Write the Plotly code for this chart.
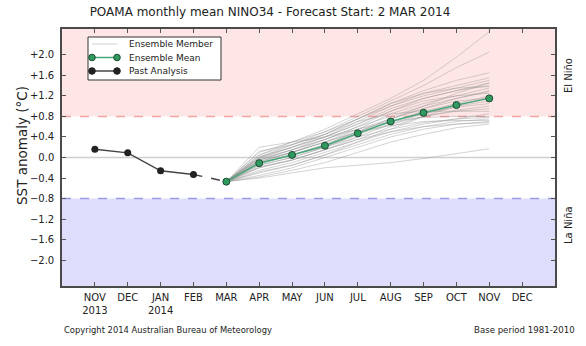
import plotly.graph_objects as go

# ---- data ----
month_labels = ["NOV<br>2013", "DEC", "JAN<br>2014", "FEB", "MAR", "APR", "MAY", "JUN",
                "JUL", "AUG", "SEP", "OCT", "NOV", "DEC"]
month_pos = list(range(1, 15))

past_pos = [1, 2, 3, 4]
past_vals = [0.16, 0.09, -0.26, -0.33]

fc_pos = [5, 6, 7, 8, 9, 10, 11, 12, 13]
mean_vals = [-0.47, -0.11, 0.05, 0.23, 0.47, 0.70, 0.87, 1.02, 1.15]

members = [
    [-0.47, 0.05, 0.30, 0.55, 0.85, 1.15, 1.50, 1.95, 2.45],
    [-0.47, 0.00, 0.25, 0.50, 0.80, 1.10, 1.40, 1.75, 2.05],
    [-0.47, -0.02, 0.20, 0.45, 0.75, 1.05, 1.30, 1.50, 1.65],
    [-0.47, 0.10, 0.30, 0.50, 0.75, 1.00, 1.25, 1.40, 1.55],
    [-0.47, -0.05, 0.15, 0.40, 0.70, 1.00, 1.20, 1.35, 1.50],
    [-0.47, 0.02, 0.20, 0.40, 0.65, 0.95, 1.15, 1.30, 1.45],
    [-0.47, -0.08, 0.10, 0.35, 0.60, 0.90, 1.15, 1.30, 1.40],
    [-0.47, 0.05, 0.25, 0.45, 0.75, 1.05, 1.25, 1.35, 1.38],
    [-0.47, -0.10, 0.10, 0.30, 0.55, 0.85, 1.05, 1.20, 1.35],
    [-0.47, -0.05, 0.15, 0.35, 0.60, 0.80, 1.00, 1.15, 1.30],
    [-0.47, -0.12, 0.05, 0.25, 0.50, 0.75, 0.95, 1.15, 1.28],
    [-0.47, 0.00, 0.20, 0.40, 0.65, 0.90, 1.10, 1.20, 1.25],
    [-0.47, -0.15, 0.00, 0.20, 0.45, 0.70, 0.90, 1.05, 1.20],
    [-0.47, -0.08, 0.10, 0.30, 0.50, 0.75, 0.95, 1.10, 1.15],
    [-0.47, -0.18, -0.05, 0.15, 0.40, 0.65, 0.85, 1.00, 1.10],
    [-0.47, -0.10, 0.05, 0.25, 0.50, 0.70, 0.85, 0.98, 1.05],
    [-0.47, -0.20, -0.05, 0.15, 0.35, 0.60, 0.80, 0.92, 1.00],
    [-0.47, -0.12, 0.05, 0.20, 0.45, 0.65, 0.80, 0.90, 0.95],
    [-0.47, 0.12, 0.25, 0.45, 0.70, 0.85, 0.90, 0.90, 0.90],
    [-0.47, -0.25, -0.10, 0.10, 0.30, 0.50, 0.65, 0.75, 0.85],
    [-0.47, -0.02, 0.15, 0.35, 0.55, 0.70, 0.78, 0.80, 0.80],
    [-0.47, -0.15, 0.00, 0.20, 0.40, 0.55, 0.68, 0.75, 0.78],
    [-0.47, -0.30, -0.15, 0.05, 0.25, 0.45, 0.60, 0.70, 0.75],
    [-0.47, -0.05, 0.10, 0.30, 0.50, 0.62, 0.70, 0.72, 0.72],
    [-0.47, -0.35, -0.20, 0.00, 0.20, 0.40, 0.55, 0.65, 0.70],
    [-0.47, -0.20, -0.05, 0.15, 0.35, 0.50, 0.60, 0.65, 0.68],
    [-0.47, -0.38, -0.25, -0.10, 0.10, 0.30, 0.45, 0.58, 0.65],
    [-0.47, -0.40, -0.30, -0.20, -0.15, -0.10, -0.02, 0.08, 0.17],
    [-0.47, 0.20, 0.30, 0.40, 0.55, 0.75, 1.00, 1.25, 1.45],
    [-0.47, -0.28, -0.15, 0.05, 0.30, 0.55, 0.80, 1.00, 1.18],
]

ytick_vals = [-2.0, -1.6, -1.2, -0.8, -0.4, 0.0, 0.4, 0.8, 1.2, 1.6, 2.0]
ytick_text = ["\u22122.0", "\u22121.6", "\u22121.2", "\u22120.8", "\u22120.4", "0.0",
              "+0.4", "+0.8", "+1.2", "+1.6", "+2.0"]

legend_names = ["Ensemble Member", "Ensemble Mean", "Past Analysis"]

nino_thr = 0.8
nina_thr = -0.8
y_min, y_max = -2.5, 2.5
x_min, x_max = 0, 15

# plot-area geometry in pixels (for converting overlay positions)
W, H = 586, 346
L, R, T, B = 62, 31, 29, 60
PW, PH = W - L - R, H - T - B


def px(xp):
    return (xp - L) / PW


def py(yp):
    return (H - B - yp) / PH


MEMBER_COLOR = "rgba(145,145,145,0.4)"
MEAN_LINE = "#4aa77a"
MEAN_FILL = "#2e9a5e"
MEAN_EDGE = "#1f4a33"
PAST_LINE = "#444444"
PAST_FILL = "#222222"

fig = go.Figure()

# background bands
fig.add_shape(type="rect", xref="paper", x0=0, x1=1, y0=nino_thr, y1=y_max,
              fillcolor="#ffe6e6", line_width=0, layer="below")
fig.add_shape(type="rect", xref="paper", x0=0, x1=1, y0=y_min, y1=nina_thr,
              fillcolor="#dedefc", line_width=0, layer="below")
fig.add_shape(type="line", xref="paper", x0=0, x1=1, y0=0, y1=0,
              line=dict(color="#cfcfcf", width=1.5), layer="below")
fig.add_shape(type="line", xref="paper", x0=0, x1=1, y0=nino_thr, y1=nino_thr,
              line=dict(color="#f5a3a3", width=1.5, dash="dash"), layer="below")
fig.add_shape(type="line", xref="paper", x0=0, x1=1, y0=nina_thr, y1=nina_thr,
              line=dict(color="#9a9ae6", width=1.5, dash="dash"), layer="below")

for i, m in enumerate(members):
    fig.add_trace(go.Scatter(x=fc_pos, y=m, mode="lines",
                             line=dict(color=MEMBER_COLOR, width=1),
                             name=legend_names[0], showlegend=False, hoverinfo="skip"))

# dashed connector from last analysis to forecast start
fig.add_trace(go.Scatter(x=[past_pos[-1], fc_pos[0]], y=[past_vals[-1], mean_vals[0]],
                         mode="lines", line=dict(color=PAST_LINE, width=1.5, dash="dash"),
                         showlegend=False))

fig.add_trace(go.Scatter(x=fc_pos, y=mean_vals, mode="lines+markers",
                         line=dict(color=MEAN_LINE, width=1.5),
                         marker=dict(color=MEAN_FILL, size=7, line=dict(color=MEAN_EDGE, width=1)),
                         name=legend_names[1], showlegend=False))

fig.add_trace(go.Scatter(x=past_pos, y=past_vals, mode="lines+markers",
                         line=dict(color=PAST_LINE, width=1.5),
                         marker=dict(color=PAST_FILL, size=7),
                         name=legend_names[2], showlegend=False))

# ---- compact legend box (matplotlib style) ----
fig.add_shape(type="rect", xref="paper", yref="paper",
              x0=px(88), x1=px(221), y0=py(80), y1=py(37),
              fillcolor="white", line=dict(color="#333333", width=1))
rows = [44, 57.5, 71]
styles = [(MEMBER_COLOR, None, None), (MEAN_LINE, MEAN_FILL, MEAN_EDGE), (PAST_LINE, PAST_FILL, PAST_FILL)]
for name, yr, (lc, mf, me) in zip(legend_names, rows, styles):
    fig.add_shape(type="line", xref="paper", yref="paper",
                  x0=px(92), x1=px(117), y0=py(yr), y1=py(yr),
                  line=dict(color=lc if mf else "rgba(150,150,150,0.45)", width=1.5 if mf else 1))
    if mf:
        for xc in (92, 117):
            fig.add_shape(type="circle", xref="paper", yref="paper",
                          xsizemode="pixel", ysizemode="pixel",
                          xanchor=px(xc), yanchor=py(yr),
                          x0=-3.3, x1=3.3, y0=-3.3, y1=3.3,
                          fillcolor=mf, line=dict(color=me, width=1))
    fig.add_annotation(text=name, xref="paper", yref="paper", x=px(127), y=py(yr),
                       xanchor="left", yanchor="middle", showarrow=False,
                       font=dict(size=9, color="#222222"))

fig.update_layout(
    width=W, height=H,
    margin=dict(l=L, r=R, t=T, b=B),
    paper_bgcolor="white", plot_bgcolor="white",
    font=dict(family="DejaVu Sans", size=10, color="#222222"),
    title=dict(text="POAMA monthly mean NINO34 - Forecast Start: 2 MAR 2014",
               x=270/586, xanchor="center", y=1-12/346, yanchor="middle",
               font=dict(size=12, color="#222222")),
    showlegend=False,
    xaxis=dict(range=[x_min, x_max], tickvals=month_pos, ticktext=month_labels,
               ticks="inside", ticklen=4, tickcolor="#555555", mirror="ticks",
               showline=True, linecolor="#4a4a4a", linewidth=1.5,
               showgrid=False, zeroline=False, tickfont=dict(size=10),
               ticklabelstandoff=1),
    yaxis=dict(range=[y_min, y_max], tickvals=ytick_vals, ticktext=ytick_text,
               ticks="inside", ticklen=4, tickcolor="#555555", mirror="ticks",
               showline=True, linecolor="#4a4a4a", linewidth=1.5,
               showgrid=False, zeroline=False, tickfont=dict(size=10),
               ticklabelstandoff=4),
)

fig.add_annotation(text="SST anomaly (°C)", xref="paper", yref="paper",
                   x=px(22), y=py(146), xanchor="center", yanchor="middle",
                   textangle=-90, showarrow=False,
                   font=dict(size=13.5, color="#222222"))
fig.add_annotation(text="El Niño", xref="paper", yref="paper",
                   x=px(568), y=py(76), xanchor="center", yanchor="middle",
                   textangle=-90, showarrow=False,
                   font=dict(size=10, color="#222222"))
fig.add_annotation(text="La Niña", xref="paper", yref="paper",
                   x=px(568), y=py(225), xanchor="center", yanchor="middle",
                   textangle=-90, showarrow=False,
                   font=dict(size=10, color="#222222"))
fig.add_annotation(text="Copyright 2014 Australian Bureau of Meteorology", xref="paper", yref="paper",
                   x=0, y=py(330), xanchor="left", yanchor="middle", showarrow=False,
                   font=dict(size=8.4, color="#222222"))
fig.add_annotation(text="Base period 1981-2010", xref="paper", yref="paper",
                   x=px(577), y=py(330), xanchor="right", yanchor="middle", showarrow=False,
                   font=dict(size=8.6, color="#222222"))

fig.write_html("out.html")
